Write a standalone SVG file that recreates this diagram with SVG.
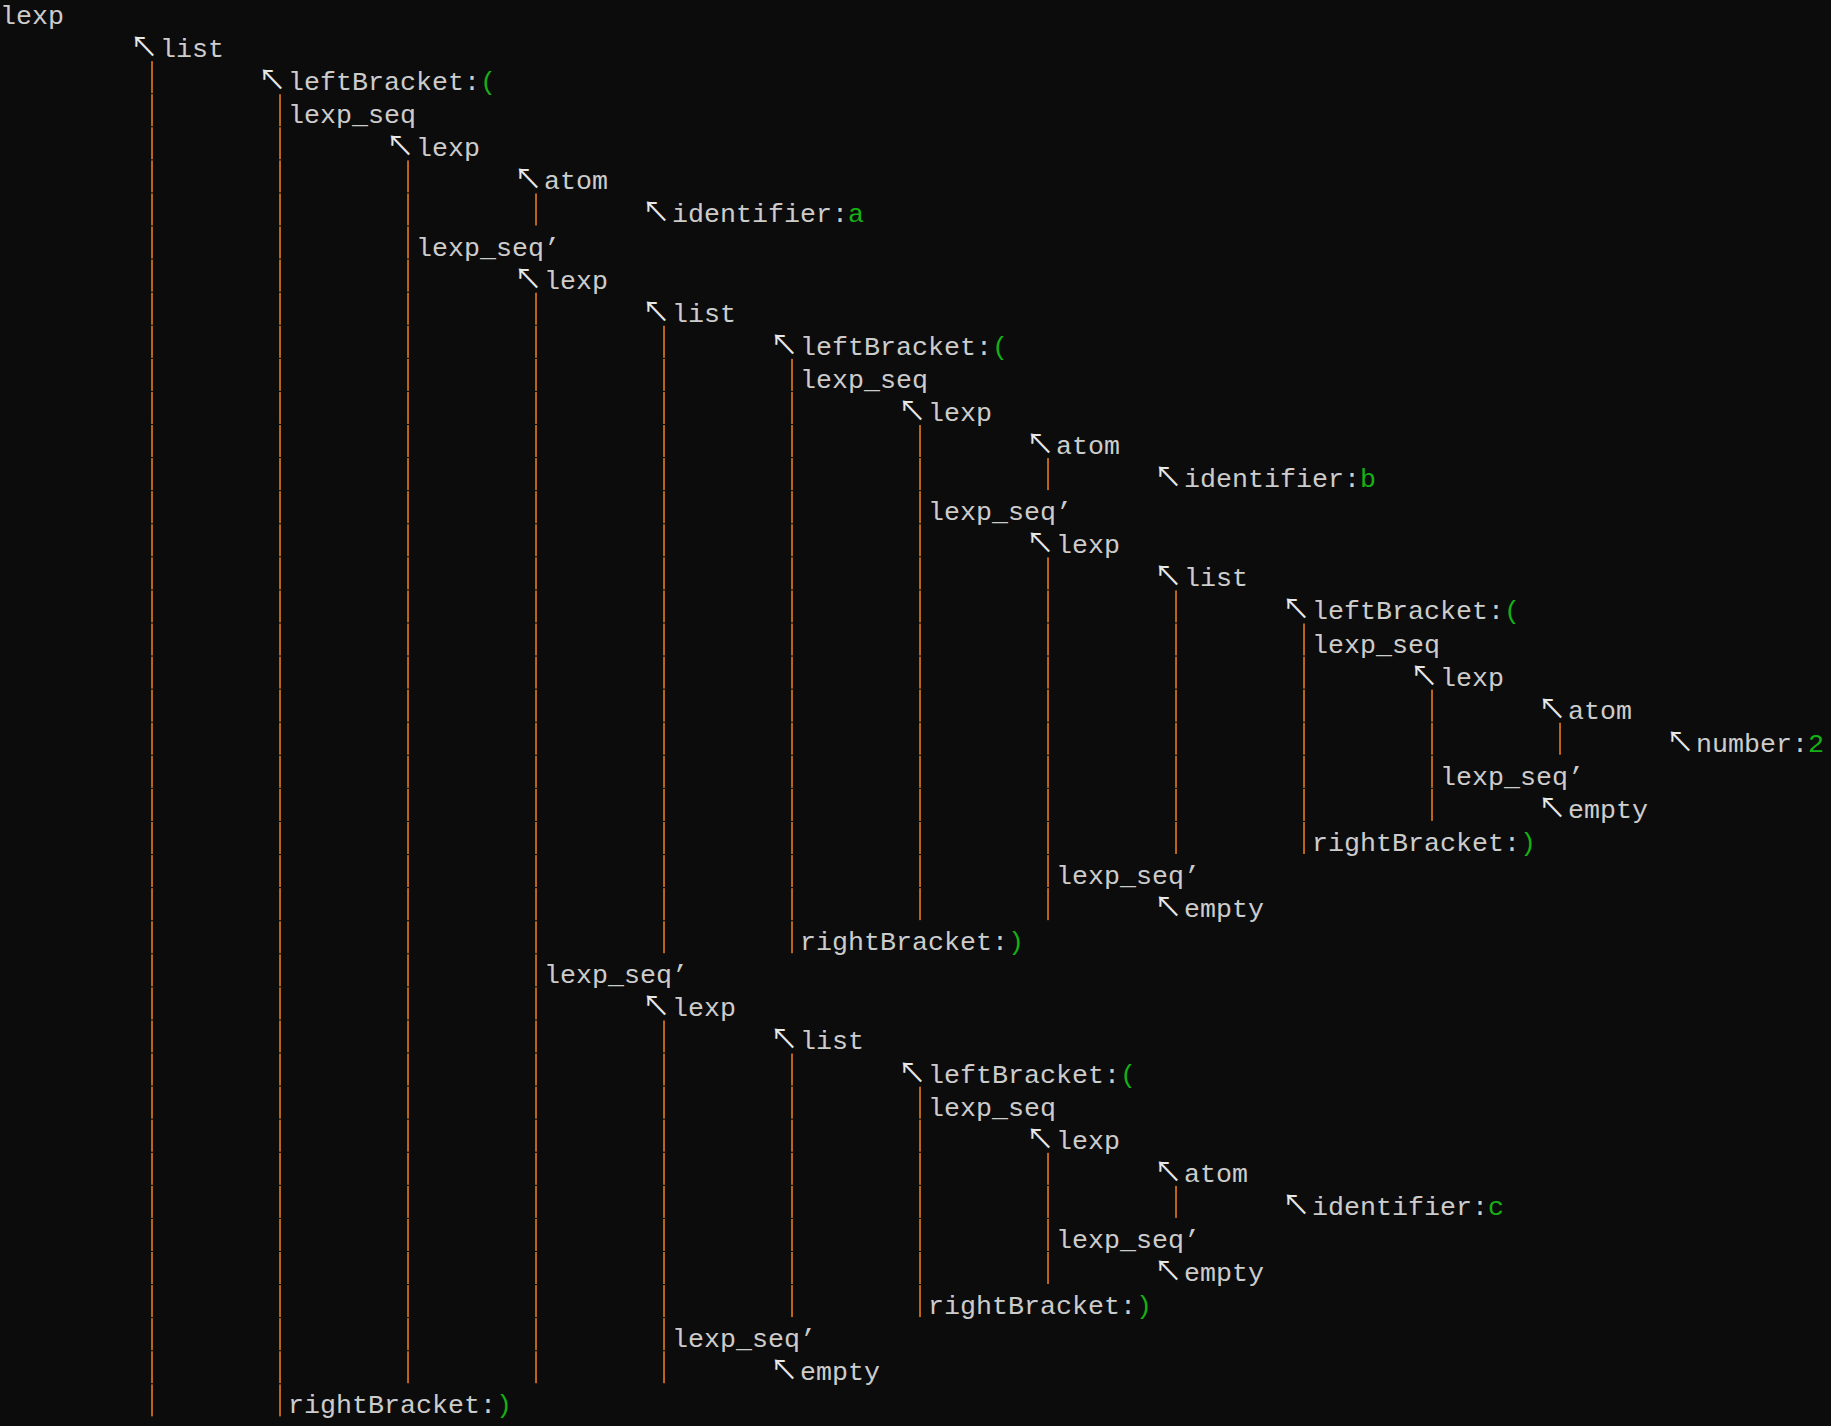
<svg xmlns="http://www.w3.org/2000/svg" width="1831" height="1426" viewBox="0 0 1831 1426">
<style>
.t{font-family:"Liberation Mono","DejaVu Sans Mono",monospace;font-size:26.67px;fill:#cccccc}
.a{font-family:"Noto Sans CJK SC","DejaVu Sans",sans-serif;font-size:28px;fill:#e8e8e8}
.g{fill:#16b016}
.b{stroke:#3f7fc4;stroke-width:1;stroke-dasharray:32 1.08;fill:none}
.o{stroke:#c0661c;stroke-width:1;stroke-dasharray:32 1.08;fill:none}
</style>
<rect x="0" y="0" width="1831" height="1426" fill="#0c0c0c"/>
<g id="connectors">
<path class="b" d="M151.5 61.16V1416.36M279.5 94.24V1416.36M407.5 160.4V1383.28M535.5 193.48V225.48M535.5 292.72V1383.28M663.5 325.8V953.24M663.5 1020.48V1383.28M791.5 358.88V953.24M791.5 1053.56V1317.12M919.5 425.04V920.16M919.5 1086.64V1317.12M1047.5 458.12V490.12M1047.5 557.36V920.16M1047.5 1152.8V1284.04M1175.5 590.44V854M1175.5 1185.88V1217.88M1303.5 623.52V854M1431.5 689.68V820.92M1559.5 722.76V754.76"/>
<path class="o" d="M152.5 61.16V1416.36M280.5 94.24V1416.36M408.5 160.4V1383.28M536.5 193.48V225.48M536.5 292.72V1383.28M664.5 325.8V953.24M664.5 1020.48V1383.28M792.5 358.88V953.24M792.5 1053.56V1317.12M920.5 425.04V920.16M920.5 1086.64V1317.12M1048.5 458.12V490.12M1048.5 557.36V920.16M1048.5 1152.8V1284.04M1176.5 590.44V854M1176.5 1185.88V1217.88M1304.5 623.52V854M1432.5 689.68V820.92M1560.5 722.76V754.76"/>
</g>
<g id="nodes" class="t">
<g id="n00"><text y="24"><tspan x="0">lexp</tspan></text></g>
<g id="n01"><text y="57.08"><tspan class="a" x="130">↖</tspan><tspan x="160">list</tspan></text></g>
<g id="n02"><text y="90.16"><tspan class="a" x="258">↖</tspan><tspan x="288">leftBracket:</tspan><tspan class="g">(</tspan></text></g>
<g id="n03"><text y="123.24"><tspan x="288">lexp_seq</tspan></text></g>
<g id="n04"><text y="156.32"><tspan class="a" x="386">↖</tspan><tspan x="416">lexp</tspan></text></g>
<g id="n05"><text y="189.4"><tspan class="a" x="514">↖</tspan><tspan x="544">atom</tspan></text></g>
<g id="n06"><text y="222.48"><tspan class="a" x="642">↖</tspan><tspan x="672">identifier:</tspan><tspan class="g">a</tspan></text></g>
<g id="n07"><text y="255.56"><tspan x="416">lexp_seq’</tspan></text></g>
<g id="n08"><text y="288.64"><tspan class="a" x="514">↖</tspan><tspan x="544">lexp</tspan></text></g>
<g id="n09"><text y="321.72"><tspan class="a" x="642">↖</tspan><tspan x="672">list</tspan></text></g>
<g id="n10"><text y="354.8"><tspan class="a" x="770">↖</tspan><tspan x="800">leftBracket:</tspan><tspan class="g">(</tspan></text></g>
<g id="n11"><text y="387.88"><tspan x="800">lexp_seq</tspan></text></g>
<g id="n12"><text y="420.96"><tspan class="a" x="898">↖</tspan><tspan x="928">lexp</tspan></text></g>
<g id="n13"><text y="454.04"><tspan class="a" x="1026">↖</tspan><tspan x="1056">atom</tspan></text></g>
<g id="n14"><text y="487.12"><tspan class="a" x="1154">↖</tspan><tspan x="1184">identifier:</tspan><tspan class="g">b</tspan></text></g>
<g id="n15"><text y="520.2"><tspan x="928">lexp_seq’</tspan></text></g>
<g id="n16"><text y="553.28"><tspan class="a" x="1026">↖</tspan><tspan x="1056">lexp</tspan></text></g>
<g id="n17"><text y="586.36"><tspan class="a" x="1154">↖</tspan><tspan x="1184">list</tspan></text></g>
<g id="n18"><text y="619.44"><tspan class="a" x="1282">↖</tspan><tspan x="1312">leftBracket:</tspan><tspan class="g">(</tspan></text></g>
<g id="n19"><text y="652.52"><tspan x="1312">lexp_seq</tspan></text></g>
<g id="n20"><text y="685.6"><tspan class="a" x="1410">↖</tspan><tspan x="1440">lexp</tspan></text></g>
<g id="n21"><text y="718.68"><tspan class="a" x="1538">↖</tspan><tspan x="1568">atom</tspan></text></g>
<g id="n22"><text y="751.76"><tspan class="a" x="1666">↖</tspan><tspan x="1696">number:</tspan><tspan class="g">2</tspan></text></g>
<g id="n23"><text y="784.84"><tspan x="1440">lexp_seq’</tspan></text></g>
<g id="n24"><text y="817.92"><tspan class="a" x="1538">↖</tspan><tspan x="1568">empty</tspan></text></g>
<g id="n25"><text y="851"><tspan x="1312">rightBracket:</tspan><tspan class="g">)</tspan></text></g>
<g id="n26"><text y="884.08"><tspan x="1056">lexp_seq’</tspan></text></g>
<g id="n27"><text y="917.16"><tspan class="a" x="1154">↖</tspan><tspan x="1184">empty</tspan></text></g>
<g id="n28"><text y="950.24"><tspan x="800">rightBracket:</tspan><tspan class="g">)</tspan></text></g>
<g id="n29"><text y="983.32"><tspan x="544">lexp_seq’</tspan></text></g>
<g id="n30"><text y="1016.4"><tspan class="a" x="642">↖</tspan><tspan x="672">lexp</tspan></text></g>
<g id="n31"><text y="1049.48"><tspan class="a" x="770">↖</tspan><tspan x="800">list</tspan></text></g>
<g id="n32"><text y="1082.56"><tspan class="a" x="898">↖</tspan><tspan x="928">leftBracket:</tspan><tspan class="g">(</tspan></text></g>
<g id="n33"><text y="1115.64"><tspan x="928">lexp_seq</tspan></text></g>
<g id="n34"><text y="1148.72"><tspan class="a" x="1026">↖</tspan><tspan x="1056">lexp</tspan></text></g>
<g id="n35"><text y="1181.8"><tspan class="a" x="1154">↖</tspan><tspan x="1184">atom</tspan></text></g>
<g id="n36"><text y="1214.88"><tspan class="a" x="1282">↖</tspan><tspan x="1312">identifier:</tspan><tspan class="g">c</tspan></text></g>
<g id="n37"><text y="1247.96"><tspan x="1056">lexp_seq’</tspan></text></g>
<g id="n38"><text y="1281.04"><tspan class="a" x="1154">↖</tspan><tspan x="1184">empty</tspan></text></g>
<g id="n39"><text y="1314.12"><tspan x="928">rightBracket:</tspan><tspan class="g">)</tspan></text></g>
<g id="n40"><text y="1347.2"><tspan x="672">lexp_seq’</tspan></text></g>
<g id="n41"><text y="1380.28"><tspan class="a" x="770">↖</tspan><tspan x="800">empty</tspan></text></g>
<g id="n42"><text y="1413.36"><tspan x="288">rightBracket:</tspan><tspan class="g">)</tspan></text></g>
</g>
</svg>
